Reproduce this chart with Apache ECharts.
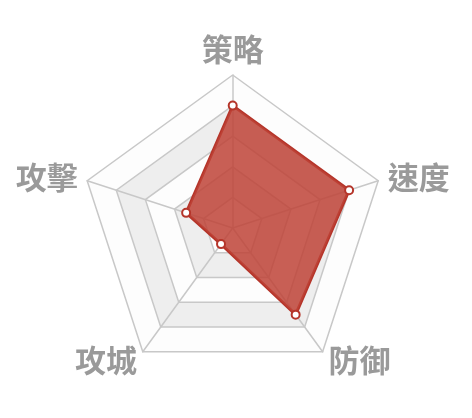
<!DOCTYPE html>
<html>
<head>
<meta charset="utf-8">
<script src="https://cdn.jsdelivr.net/npm/echarts@6/dist/echarts.min.js"></script>
<style>
html,body{margin:0;padding:0;background:#fff;}
#chart{width:472px;height:418px;}
</style>
</head>
<body>
<div id="chart"></div>
<script>
// ECharts radar runs counter-clockwise from the top
var indicatorNames = ['策略', '攻擊', '攻城', '防御', '速度'];
var indicatorMax = [100, 100, 100, 100, 100];
var seriesValues = [80, 32, 13, 70, 80];

var chart = echarts.init(document.getElementById('chart'), null, {renderer: 'canvas'});
chart.setOption({
  animation: false,
  backgroundColor: '#ffffff',
  radar: {
    center: [232.7, 228],
    radius: 153,
    startAngle: 90,
    splitNumber: 5,
    shape: 'polygon',
    indicator: indicatorNames.map(function (n, i) { return {name: n, max: indicatorMax[i]}; }),
    axisName: {
      color: '#9a9a9a',
      fontSize: 31,
      fontWeight: 'bold',
      fontFamily: '"Noto Sans CJK TC", "Noto Sans CJK SC", sans-serif'
    },
    nameGap: 10,
    splitArea: {
      show: true,
      areaStyle: {color: ['rgba(250,250,250,0.3)', 'rgba(200,200,200,0.3)']}
    },
    splitLine: {lineStyle: {color: '#c8c8c8', width: 1.5}},
    axisLine: {lineStyle: {color: '#c8c8c8', width: 1.5}}
  },
  series: [{
    type: 'radar',
    symbol: 'emptyCircle',
    symbolSize: 8,
    itemStyle: {color: '#b5352a', borderWidth: 2},
    lineStyle: {color: '#b5352a', width: 3},
    areaStyle: {color: 'rgb(190,67,55)', opacity: 0.85},
    data: [{value: seriesValues}]
  }]
});
</script>
</body>
</html>
